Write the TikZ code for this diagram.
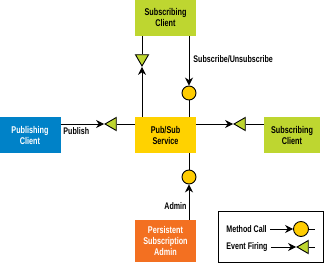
\documentclass[tikz,border=0pt]{standalone}
\usepackage{fontspec}
\setmainfont[FakeStretch=0.74]{Liberation Sans}
\usetikzlibrary{shapes.geometric,arrows.meta}

\definecolor{pubblue}{RGB}{0,130,200}
\definecolor{subgreen}{RGB}{190,214,48}
\definecolor{svcyellow}{RGB}{255,210,0}
\definecolor{admorange}{RGB}{243,112,33}
\definecolor{dotyellow}{RGB}{255,204,0}

\begin{document}
\begin{tikzpicture}[x=1pt, y=-1pt, >={Stealth[length=8pt,width=8pt]}, line width=0.9pt,
    box/.style={rectangle, inner sep=0pt, align=center, minimum width=61pt, minimum height=36pt,
      font=\bfseries\fontsize{9.8}{11}\selectfont},
    lbl/.style={inner sep=0pt, font=\bfseries\fontsize{9.6}{11}\selectfont},
    call/.style={circle, draw, fill=dotyellow, minimum size=14pt, inner sep=0pt},
    event/.style={regular polygon, regular polygon sides=3, draw, fill=subgreen, minimum size=15pt, inner sep=0pt}]

    \useasboundingbox (0,0) rectangle (326,264);

    % Kästen
    \node[box, fill=pubblue, text=white] (pub) at (30,135) {Publishing\\Client};
    \node[box, fill=svcyellow] (svc) at (165.5,135) {Pub/Sub\\Service};
    \node[box, fill=subgreen] (subT) at (165.5,18) {Subscribing\\Client};
    \node[box, fill=subgreen, minimum width=56pt] (subR) at (292,135) {Subscribing\\Client};
    \node[box, fill=admorange, text=white, minimum height=42pt] (adm) at (165.5,241) {Persistent\\Subscription\\Admin};

    % Ereignisse (Dreiecke) und Methodenaufrufe (Kreise)
    \node[event, shape border rotate=90] (triL) at (112.5,124) {};
    \node[event, shape border rotate=90] (triR) at (241.5,124) {};
    \node[event, shape border rotate=180] (triT) at (142,58.5) {};
    \node[call] (callT) at (189,93) {};
    \node[call] (callB) at (189,177) {};

    % Verbindungen
    \draw[->] (pub.east |- triL) -- (triL);
    \draw (triL) -- (triL -| svc.west);
    \draw[->] (svc.east |- triR) -- (triR);
    \draw (triR) -- (triR -| subR.west);
    \draw[->] (svc.north -| triT) -- (triT);
    \draw (triT) -- (triT |- subT.south);
    \draw[->] (subT.south -| callT) -- (callT);
    \draw (callT) -- (callT |- svc.north);
    \draw[->] (adm.north -| callB) -- (callB);
    \draw (callB) -- (callB |- svc.south);

    % Beschriftungen
    \node[lbl, anchor=west] (subLbl) at (193,59) {Subscribe/Unsubscribe};
    \node[lbl, anchor=west] (pubLbl) at (63,131) {Publish};
    \node[lbl, anchor=east] (admLbl) at (187,206) {Admin};

    % Legende
    \node[draw, line width=1pt, minimum width=105pt, minimum height=51pt, inner sep=0pt] (legend) at (270.5,236.5) {};
    \node[lbl, anchor=west] (callLbl) at (226,229) {Method Call};
    \node[lbl, anchor=west] (eventLbl) at (226,247) {Event Firing};
    \node[call, minimum size=15pt] (callKey) at (301,229) {};
    \node[event, shape border rotate=90] (eventKey) at (304.5,247) {};
    \coordinate (callEnd) at (315,229);
    \coordinate (eventEnd) at (315,247);
    \draw[->] ([xshift=3pt]callLbl.east) -- (callKey);
    \draw (callKey) -- (callEnd);
    \draw[->] ([xshift=3pt]eventLbl.east) -- (eventKey);
    \draw (eventKey) -- (eventEnd);

\end{tikzpicture}
\end{document}
